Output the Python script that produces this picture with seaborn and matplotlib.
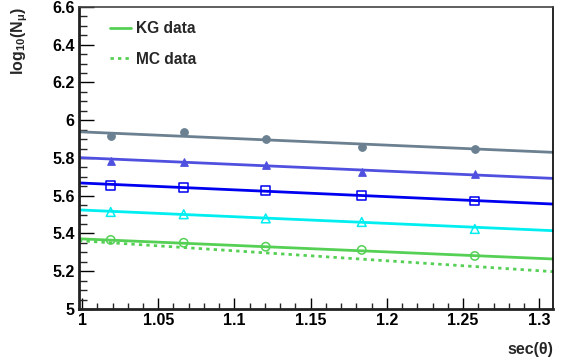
import numpy as np
import pandas as pd
import matplotlib
matplotlib.use("Agg")
import matplotlib.pyplot as plt
import seaborn as sns
from matplotlib.ticker import MultipleLocator
from matplotlib.lines import Line2D

sns.set_theme(style="ticks")
plt.rcParams['font.family'] = ['Liberation Sans', 'DejaVu Sans']
plt.rcParams['font.weight'] = 'bold'
plt.rcParams['mathtext.fontset'] = 'custom'
plt.rcParams['mathtext.rm'] = 'Liberation Sans:bold'
plt.rcParams['mathtext.it'] = 'Liberation Sans:bold'
plt.rcParams['mathtext.bf'] = 'Liberation Sans:bold'

sec_theta = [1.0188, 1.0667, 1.1205, 1.1835, 1.2577]
series_names = ["s1", "s2", "s3", "s4", "s5"]
pts_gray = [5.918, 5.938, 5.901, 5.860, 5.848]
pts_purple = [5.784, 5.780, 5.761, 5.727, 5.715]
pts_blue = [5.655, 5.643, 5.627, 5.602, 5.572]
pts_cyan = [5.514, 5.502, 5.480, 5.461, 5.424]
pts_green = [5.366, 5.351, 5.330, 5.313, 5.281]

fit_x = [0.998, 1.309]
kg_gray = [5.939, 5.830]
kg_purple = [5.802, 5.692]
kg_blue = [5.668, 5.556]
kg_cyan = [5.525, 5.415]
kg_green = [5.372, 5.265]
mc_green = [5.362, 5.198]

colors = ["#6b8090", "#5050e0", "#0000f0", "#00eef0", "#55d055"]
markers = ["o", "^", "s", "^", "o"]
filled = [True, True, False, False, False]
msizes = [30, 30, 40, 40, 36]

pts = [pts_gray, pts_purple, pts_blue, pts_cyan, pts_green]
fits = [kg_gray, kg_purple, kg_blue, kg_cyan, kg_green]

fig = plt.figure(figsize=(5.64, 3.61), dpi=100)
ax = fig.add_axes([79/564, 1 - 309/361, (553-79)/564, (309-7)/361])

for name, p, f, c, m, fl, ms in zip(series_names, pts, fits, colors, markers, filled, msizes):
    sns.lineplot(x=fit_x, y=f, ax=ax, color=c, lw=2.0, estimator=None)
    df = pd.DataFrame({"x": sec_theta, "y": p})
    if fl:
        sns.scatterplot(data=df, x="x", y="y", ax=ax, marker=m, s=ms, color=c,
                        edgecolor=c, linewidth=0.8, zorder=3)
    else:
        sns.scatterplot(data=df, x="x", y="y", ax=ax, marker=m, s=ms, facecolor="none",
                        edgecolor=c, linewidth=1.1, zorder=3)

sns.lineplot(x=fit_x, y=mc_green, ax=ax, color=colors[4], lw=2.0, ls=(0, (1.2, 1.5)), estimator=None)

ax.set_xlim(0.998, 1.309)
ax.set_ylim(5.0, 6.6)
ax.xaxis.set_major_locator(MultipleLocator(0.05))
ax.xaxis.set_minor_locator(MultipleLocator(0.01))
ax.yaxis.set_major_locator(MultipleLocator(0.2))
ax.yaxis.set_minor_locator(MultipleLocator(0.05))
ax.set_xticks([1.0, 1.05, 1.1, 1.15, 1.2, 1.25, 1.3])
ax.set_xticklabels(["1", "1.05", "1.1", "1.15", "1.2", "1.25", "1.3"])
ax.set_yticks([5.0, 5.2, 5.4, 5.6, 5.8, 6.0, 6.2, 6.4, 6.6])
ax.set_yticklabels(["5", "5.2", "5.4", "5.6", "5.8", "6", "6.2", "6.4", "6.6"])
ax.tick_params(axis="x", which="major", direction="in", length=8, width=1.0,
               labelsize=11.5, colors="black", pad=3)
ax.tick_params(axis="y", which="major", direction="in", length=11, width=1.0,
               labelsize=11.5, colors="black", pad=3)
ax.tick_params(axis="x", which="minor", direction="in", length=4, width=1.0)
ax.tick_params(axis="y", which="minor", direction="in", length=6, width=1.0)
ax.tick_params(axis="x", which="both", top=False)
ax.tick_params(axis="y", which="both", right=False)
for lbl in ax.get_xticklabels() + ax.get_yticklabels():
    lbl.set_fontweight("bold")

ax.spines["left"].set_linewidth(2.0)
ax.spines["bottom"].set_linewidth(2.0)
ax.spines["left"].set_color("#222222")
ax.spines["bottom"].set_color("#222222")
ax.spines["top"].set_linewidth(1.2)
ax.spines["top"].set_color("#444444")
ax.spines["right"].set_linewidth(1.2)
ax.spines["right"].set_color("black")

ax.set_xlabel("sec(θ)", fontsize=11.5, fontweight="bold", loc="right", labelpad=10)
ax.set_ylabel(r"log$_{10}$(N$_{\mu}$)", fontsize=11.5, fontweight="bold", loc="top", labelpad=16)

handles = [Line2D([0], [0], color=colors[4], lw=2.0),
           Line2D([0], [0], color=colors[4], lw=2.0, ls=(0, (1.2, 1.5)))]
leg = ax.legend(handles, ["KG data", "MC data"], loc="upper left", frameon=False,
                fontsize=11.2, handlelength=1.4, handletextpad=0.3,
                labelspacing=1.0, bbox_to_anchor=(0.035, 1.0))
for t in leg.get_texts():
    t.set_fontweight("bold")

fig.savefig("out.png", dpi=100)
